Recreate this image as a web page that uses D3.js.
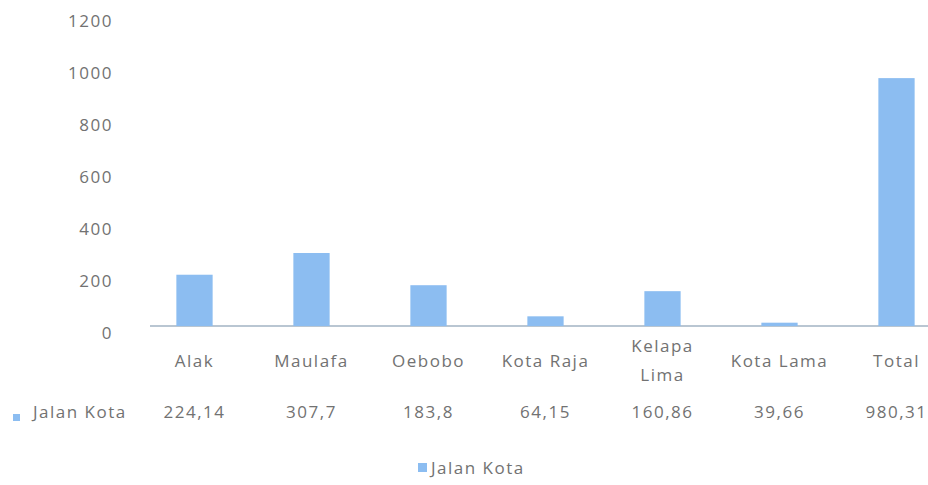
<!DOCTYPE html>
<html><head><meta charset="utf-8">
<script src="https://cdn.jsdelivr.net/npm/d3@7"></script>
<style>body{margin:0;background:#fff}svg{display:block}text{font-family:"Open Sans","Noto Sans",sans-serif;fill:#727272;font-size:17px;letter-spacing:1.5px}</style>
</head><body><svg id="c" width="928" height="485"></svg>
<script>
const categories = ["Alak","Maulafa","Oebobo","Kota Raja","Kelapa Lima","Kota Lama","Total"];
const values = [224.14,307.7,183.8,64.15,160.86,39.66,980.31];
const valueLabels = ["224,14","307,7","183,8","64,15","160,86","39,66","980,31"];
const yTicks = [0,200,400,600,800,1000,1200];
const seriesName = "Jalan Kota";
const barColor = "#8cbdf1";

const svg = d3.select("#c");
const x = d3.scaleBand().domain(categories).range([136,955]).paddingInner(0.69).paddingOuter(0.345);
const y = d3.scaleLinear().domain([0,1200]).range([333,21]);
const base = y(0) - 7;

// y tick labels
svg.append("g").selectAll("text").data(yTicks).join("text")
  .attr("x",113).attr("y",d=>y(d)).attr("dy","0.35em").attr("text-anchor","end").text(d=>d);

// baseline
svg.append("line").attr("x1",150).attr("x2",928).attr("y1",base).attr("y2",base)
  .attr("stroke","#b9c6d2").attr("stroke-width",2);

// bars
svg.append("g").selectAll("rect").data(categories).join("rect")
  .attr("x",d=>x(d)).attr("width",x.bandwidth())
  .attr("y",(d,i)=>y(values[i])).attr("height",(d,i)=>base-y(values[i]))
  .attr("fill",barColor);

// category labels
const cx = d=>x(d)+x.bandwidth()/2;
const cat = svg.append("g");
categories.forEach(c=>{
  if(c==="Kelapa Lima"){
    const t = cat.append("text").attr("x",cx(c)).attr("text-anchor","middle");
    t.append("tspan").attr("x",cx(c)).attr("y",352).text("Kelapa");
    t.append("tspan").attr("x",cx(c)).attr("y",381).text("Lima");
  } else {
    cat.append("text").attr("x",cx(c)).attr("y",367).attr("text-anchor","middle").text(c);
  }
});

// data table row
svg.append("rect").attr("x",13).attr("y",414).attr("width",7).attr("height",7).attr("fill",barColor);
svg.append("text").attr("x",33).attr("y",418).text(seriesName);
svg.append("g").selectAll("text").data(categories).join("text")
  .attr("x",cx).attr("y",418).attr("text-anchor","middle")
  .text((d,i)=>valueLabels[i]);

// legend
svg.append("rect").attr("x",418).attr("y",463).attr("width",9).attr("height",9).attr("fill",barColor);
svg.append("text").attr("x",431).attr("y",474).text(seriesName);
</script></body></html>
